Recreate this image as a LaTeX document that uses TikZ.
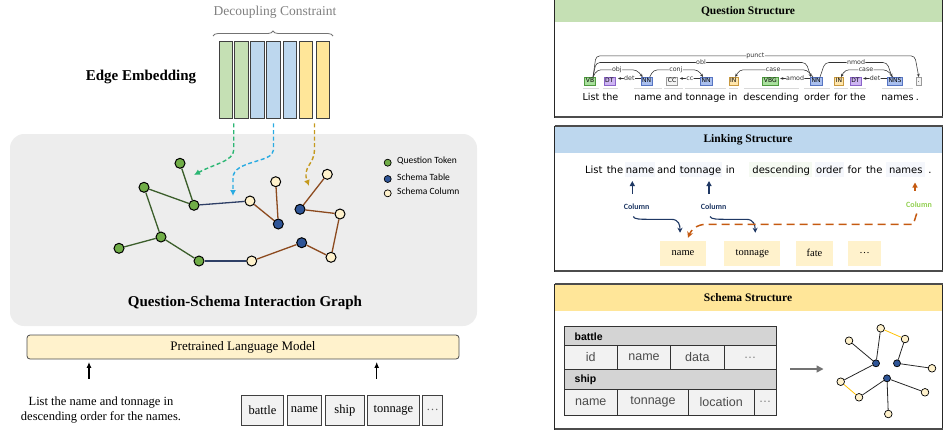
\documentclass[tikz,border=0pt]{standalone}
\usepackage{fontspec}
\setmainfont{Liberation Serif}
\newfontfamily\dejavu{DejaVu Sans}
\newfontfamily\carl{Carlito}
\newfontfamily\arialf{Liberation Sans}
\usetikzlibrary{arrows.meta,decorations.pathreplacing,calc}
\newcommand{\setfs}[1]{\fontsize{#1}{#1}\selectfont}
\definecolor{qgreen}{HTML}{70AD47}
\definecolor{ttblue}{HTML}{2F5597}
\definecolor{ccol}{HTML}{FFF2CC}
\definecolor{panelgray}{HTML}{EDEDED}
\definecolor{barG}{HTML}{C5E0B4}
\definecolor{barB}{HTML}{BDD7EE}
\definecolor{barY}{HTML}{FFE699}
\definecolor{egreen}{HTML}{3B5E2B}
\definecolor{eblue}{HTML}{2E3F66}
\definecolor{ebrown}{HTML}{8C4A1E}
\definecolor{dgreen}{HTML}{2BB673}
\definecolor{dcyan}{HTML}{29ABE2}
\definecolor{dgold}{HTML}{C59A1E}
\definecolor{linkblue}{HTML}{1F3864}
\definecolor{lorange}{HTML}{C55A11}
\definecolor{colgreen}{HTML}{92D050}
\definecolor{hdrgray}{HTML}{D4D4D4}
\definecolor{rowgray}{HTML}{F2F2F2}
\definecolor{yedge}{HTML}{FFC000}
\definecolor{hlb}{HTML}{F5F7FC}
\definecolor{hlg}{HTML}{F5FAF2}
\definecolor{tVBf}{HTML}{A8E09C}\definecolor{tVBd}{HTML}{4F9A3F}
\definecolor{tDTf}{HTML}{CDB4F2}\definecolor{tDTd}{HTML}{8A63C9}
\definecolor{tNNf}{HTML}{A9BFEE}\definecolor{tNNd}{HTML}{5674C2}
\definecolor{tINf}{HTML}{FFE6AC}\definecolor{tINd}{HTML}{C99A40}
\definecolor{tCCf}{HTML}{F4F4F4}\definecolor{tCCd}{HTML}{9A9A9A}
\begin{document}
\begin{tikzpicture}[x=1pt,y=-1pt,
  bar/.style={draw=black!75, line width=0.8pt, minimum width=13.6pt, minimum height=77pt, inner sep=0pt},
  gnode/.style={circle, draw=black, line width=1pt, minimum size=10pt, inner sep=0pt},
  gq/.style={gnode, fill=qgreen},
  gt/.style={gnode, fill=ttblue},
  gc/.style={gnode, fill=ccol},
  lnode/.style={circle, draw=black, line width=0.7pt, minimum size=7pt, inner sep=0pt},
  legtxt/.style={anchor=west, font=\carl\setfs{9.5}, inner sep=0pt},
  eg/.style={egreen, line width=1.3pt},
  eb/.style={eblue, line width=1.3pt},
  er/.style={ebrown, line width=1.3pt},
  dasharr/.style={line width=1.4pt, dash pattern=on 4pt off 2.6pt, -{Latex[length=6pt,width=6pt]}},
  uparr/.style={line width=1.4pt, -{Latex[length=6pt,width=5pt]}},
  sbox/.style={draw=black!75, line width=0.9pt, fill=rowgray, minimum height=30pt, inner sep=0pt, font=\setfs{12.5}},
  title/.style={font=\bfseries\setfs{11.5}},
  tag/.style={draw, line width=0.45pt, inner xsep=1.3pt, inner ysep=0pt, minimum height=7.6pt, text height=4.5pt, text depth=0.6pt, font=\dejavu\setfs{6}},
  word/.style={anchor=base, inner sep=0pt, font=\dejavu\setfs{9.6}},
  lword/.style={anchor=base, inner sep=0pt, font=\dejavu\setfs{10}},
  dep/.style={draw=black!80, line width=0.55pt, rounded corners=4pt},
  deplab/.style={fill=white, inner sep=0.4pt, font=\dejavu\setfs{6.3}, text=black!80},
  dtip/.style={-{Stealth[length=3.2pt,width=2.8pt]}},
  dtipl/.style={{Stealth[length=3.2pt,width=2.8pt]}-},
  lbox/.style={fill=ccol, minimum height=24.7pt, inner sep=0pt, font=\setfs{10.5}},
  collab/.style={font=\carl\bfseries\setfs{8}, inner sep=0pt},
  scol/.style={circle, draw=black, line width=0.7pt, fill=ccol, minimum size=7.6pt, inner sep=0pt},
  stab/.style={circle, draw=black, line width=0.7pt, fill=ttblue, minimum size=7pt, inner sep=0pt},
  sedge/.style={black!85, line width=0.8pt},
  yedg/.style={yedge, line width=0.8pt},
  tb/.style={draw=black!80, line width=0.9pt},
  celltxt/.style={font=\arialf\setfs{12.5}, text=black!70, inner sep=0pt},
  hdtxt/.style={font=\arialf\bfseries\setfs{10.5}, anchor=west, inner sep=0pt}
]
\useasboundingbox (0,0) rectangle (944,432);

% ---------------- left part ----------------
\node[text=black!50, font=\setfs{13.5}] (dc) at (275,12) {Decoupling Constraint};
\draw[black!55, line width=0.8pt, decorate, decoration={brace, amplitude=5pt}] (213,36) -- (333,36);

\foreach \x/\c [count=\i] in {226/barG,241.5/barG,257.5/barB,273.5/barB,290/barB,306/barY,323/barY}
  \node[bar, fill=\c] (b\i) at (\x,79.5) {};
\node[font=\bfseries\setfs{15}] (ee) at (141,77) {Edge Embedding};

\fill[panelgray, rounded corners=14pt] (10,134) rectangle (477,326);

% graph nodes
\node[gq] (G1) at (180,163.3) {};
\node[gq] (G2) at (144,187.3) {};
\node[gq] (G3) at (194,205.3) {};
\node[gq] (G4) at (161,237) {};
\node[gq] (G5) at (119,248.3) {};
\node[gq] (G6) at (199,261) {};
\node[gc] (C1) at (250,201) {};
\node[gc] (C2) at (275.7,181.7) {};
\node[gc] (C3) at (327.3,174.3) {};
\node[gc] (C4) at (340,214) {};
\node[gc] (C5) at (331,257.3) {};
\node[gc] (C6) at (251.7,261) {};
\node[gt] (T1) at (278.3,224) {};
\node[gt] (T2) at (300,209.3) {};
\node[gt] (T3) at (301.7,242.7) {};

\draw[eg] (G1) -- (G3);
\draw[eg] (G2) -- (G3);
\draw[eg] (G2) -- (G4);
\draw[eg] (G4) -- (G5);
\draw[eg] (G4) -- (G6);
\draw[eb] (G3) -- (C1);
\draw[eb] (G6) -- (C6);
\draw[er] (C1) -- (T1);
\draw[er] (C2) -- (T1);
\draw[er] (T2) -- (C3);
\draw[er] (T2) -- (C4);
\draw[er] (C4) -- (C5);
\draw[er] (C5) -- (T3);
\draw[er] (T3) -- (C6);

% dashed arrows
\coordinate (gs) at ($(b1.south east)!0.5!(b2.south west)+(0,5)$);
\coordinate (cs) at ($(b4.south)+(0,5)$);
\coordinate (ys) at ($(b6.south east)!0.5!(b7.south west)+(0,5)$);
\coordinate (ge) at (194,175);
\coordinate (ce) at (233,196);
\coordinate (ye) at (309,186);
\draw[dasharr, dgreen] (gs) -- (233.7,150) .. controls (233.7,161) and (214,164) .. (ge);
\draw[dasharr, dcyan] (cs) -- (273.5,150) .. controls (273.5,163) and (233,160) .. (233,178) -- (ce);
\draw[dasharr, dgold] (ys) -- (314.5,150) .. controls (314.5,164) and (302,167) .. (ye);

% legend
\node[lnode, fill=qgreen] (lq) at (387.7,162.7) {};
\node[lnode, fill=ttblue] (lt) at (387.7,179) {};
\node[lnode, fill=ccol] (lc) at (387.7,193.3) {};
\node[legtxt] (lqt) at (397,160.7) {Question Token};
\node[legtxt] (ltt) at (397,177.5) {Schema Table};
\node[legtxt] (lct) at (397,191.7) {Schema Column};

\node[font=\bfseries\setfs{15}] (qsg) at (245,303) {Question-Schema Interaction Graph};

% PLM
\node[draw=black!70, line width=0.8pt, fill=ccol, rounded corners=3pt, minimum width=432pt, minimum height=24pt, inner sep=0pt, font=\setfs{13}] (plm) at (243,347) {Pretrained Language Model};

\node[align=center, font=\fontsize{12.5}{14.7}\selectfont, inner sep=0pt] (q) at (101,410) {List the name and tonnage in\\descending order for the names.};

\node[sbox, minimum width=41.6pt] (s1) at (262.5,410) {battle};
\node[sbox, minimum width=34.4pt] (s2) at (304.5,410) {name};
\node[sbox, minimum width=38.3pt] (s3) at (344.9,410) {ship};
\node[sbox, minimum width=51.6pt] (s4) at (393.5,410) {tonnage};
\node[sbox, minimum width=20pt, text=black!60] (s5) at (432.7,410) {\dots};

\coordinate (qa) at (89,378.5);
\coordinate (sa) at (376.7,378.5);
\draw[uparr] (qa) -- ($(qa |- plm.south)+(0,2.5)$);
\draw[uparr] (sa) -- ($(sa |- plm.south)+(0,2.5)$);

% ---------------- right panels ----------------
% panel 1
\fill[barG] (554.5,-3) rectangle (942.5,22);
\draw[black!85, line width=0.8pt] (554.5,-3) rectangle (942.5,117);
\draw[black!70, line width=1.8pt] (554.5,117) -- (942.5,117);
\node[title] (t1) at (748,11) {Question Structure};

% panel 2
\fill[barB] (554.5,126) rectangle (942.5,152.5);
\draw[black!85, line width=0.8pt] (554.5,126) rectangle (942.5,271);
\draw[black!70, line width=1.8pt] (554.5,126) -- (942.5,126) (554.5,271) -- (942.5,271);
\node[title] (t2) at (748,140) {Linking Structure};

% panel 3
\fill[barY] (554.5,284) rectangle (942.5,310.7);
\draw[black!85, line width=0.8pt] (554.5,284) rectangle (942.5,429);
\draw[black!70, line width=1.8pt] (554.5,284) -- (942.5,284) (554.5,429) -- (942.5,429);
\node[title] (t3) at (748,297.5) {Schema Structure};

% ---- question structure: tags
\node[tag, fill=tVBf, draw=tVBd] (tVB) at (590,81) {VB};
\node[tag, fill=tDTf, draw=tDTd] (tDT1) at (609.3,81) {DT};
\node[tag, fill=tNNf, draw=tNNd] (tNN1) at (646.7,81) {NN};
\node[tag, fill=tCCf, draw=tCCd] (tCC) at (672,81) {CC};
\node[tag, fill=tNNf, draw=tNNd] (tNN2) at (706,81) {NN};
\node[tag, fill=tINf, draw=tINd] (tIN1) at (733.3,81) {IN};
\node[tag, fill=tVBf, draw=tVBd] (tVBG) at (770.3,81) {VBG};
\node[tag, fill=tNNf, draw=tNNd] (tNN3) at (816,81) {NN};
\node[tag, fill=tINf, draw=tINd] (tIN2) at (839,81) {IN};
\node[tag, fill=tDTf, draw=tDTd] (tDT2) at (855.5,81) {DT};
\node[tag, fill=tNNf, draw=tNNd] (tNNS) at (895,81) {NNS};
\node[tag, fill=tCCf, draw=tCCd] (tDot) at (918.8,81) {.};

% words
\foreach \x/\w [count=\i] in {591/List,610.5/the,648/name,673.5/and,705.5/tonnage,733/in,771/descending,817/order,840.7/for,858/the,897.5/names,917.3/.}
  \node[word] (w\i) at (\x,100) {\w};
\foreach \a/\b in {583/599,603/618,634/662,664/683,685/726,729/738,744/799,804/830,834/848,850/866,882/913}
  \draw[black!15, line width=0.6pt] (\a,88) -- (\b,88);

% arcs
\draw[dep, dtip] ([xshift=3pt]tVB.north) -- ++(3,-21.2) -- node[deplab]{punct} ($(tDot.north)+(-4,-21.2)$) -- (tDot.north);
\draw[dep, dtip] ([xshift=3pt]tVB.north) -- ++(3,-14.5) -- node[deplab]{obl} ($(tNN3.north)+(-10,-14.5)$) -- ([xshift=-5pt]tNN3.north);
\draw[dep, dtip] ([xshift=3pt]tVB.north) -- ++(4,-7.2) -- node[deplab]{obj} ($(tNN1.north)+(-10,-7.2)$) -- ([xshift=-4pt]tNN1.north);
\draw[dep, dtip] ([yshift=-1.5pt]tNN1.north west) -- node[deplab]{det} ([xshift=3pt,yshift=-1.5pt]tDT1.north east);
\draw[dep, dtip] ([xshift=3pt]tNN1.north) -- ++(4,-7.2) -- node[deplab]{conj} ($(tNN2.north)+(-8,-7.2)$) -- ([xshift=-3pt]tNN2.north);
\draw[dep, dtip] ([yshift=-1.5pt]tNN2.north west) -- node[deplab]{cc} ([xshift=2pt,yshift=-1.5pt]tCC.north east);
\draw[dep, dtipl] ([xshift=2pt]tIN1.north) -- ++(4,-7.2) -- node[deplab]{case} ($(tNN3.north)+(-9,-7.2)$) -- ([xshift=-3pt]tNN3.north);
\draw[dep, dtip] ([yshift=-1.5pt]tNN3.north west) -- node[deplab]{amod} ([xshift=2pt,yshift=-1.5pt]tVBG.north east);
\draw[dep, dtip] ([xshift=4pt]tNN3.north) -- ++(5,-14.5) -- node[deplab]{nmod} ($(tNNS.north)+(-8,-14.5)$) -- ([xshift=-3pt]tNNS.north);
\draw[dep, dtipl] ([xshift=2pt]tIN2.north) -- ++(4,-7.2) -- node[deplab]{case} ($(tNNS.north)+(-8,-7.2)$) -- ([xshift=-2pt]tNNS.north);
\draw[dep, dtip] ([yshift=-1.5pt]tNNS.north west) -- node[deplab]{det} ([xshift=2pt,yshift=-1.5pt]tDT2.north east);

% ---- linking structure
\foreach \a/\b/\c in {625/655/hlb,679/722/hlb,749/812/hlg,815/844/hlb,886/925/hlb}
  \fill[\c] (\a,162) rectangle (\b,177);
\foreach \x/\w [count=\i] in {593.8/List,615/the,640/name,666.5/and,700.5/tonnage,730.5/in,781.2/descending,829.5/order,854.5/for,874.2/the,905.8/names,930/.}
  \node[lword] (v\i) at (\x,173.5) {\w};
\coordinate (la1) at (632.3,194);
\coordinate (la2) at (709,194);
\coordinate (la3) at (915,190.5);
\draw[linkblue, line width=1.3pt, -{Triangle[length=5pt,width=5pt]}] (la1) -- ++(0,-13);
\draw[linkblue, line width=1.3pt, -{Triangle[length=5pt,width=5pt]}] (la2) -- ++(0,-13);
\draw[lorange, line width=1.3pt, -{Triangle[length=5pt,width=5pt]}] (la3) -- ++(0,-8);
\node[collab, text=linkblue] (cl1) at (636.7,206.7) {Column};
\node[collab, text=linkblue] (cl2) at (713.7,206.7) {Column};
\node[collab, text=colgreen] (cl3) at (919,204.3) {Column};

\node[lbox, minimum width=46pt] (bn) at (683,253.3) {name};
\node[lbox, minimum width=56pt] (bt) at (752.3,253.3) {tonnage};
\node[lbox, minimum width=37.6pt] (bf) at (814.5,253.3) {fate};
\node[lbox, minimum width=32.4pt] (bd) at (864.5,253.3) {\dots};

\draw[linkblue, line width=1.1pt, -{Stealth[length=5pt,width=5pt]}] (633.3,216.5) .. controls (634,219.3) and (640,219.3) .. (650,219.3) -- (671,219.3) .. controls (679,219.3) and (680,225) .. ($(bn.north)+(-3,-8)$);
\draw[linkblue, line width=1.1pt, -{Stealth[length=5pt,width=5pt]}] (710,216.5) .. controls (711,219.3) and (717,219.3) .. (727,219.3) -- (746,219.3) .. controls (754,219.3) and (755,225) .. ($(bt.north)+(3,-8)$);
\draw[lorange, line width=1.5pt, dash pattern=on 8pt off 5pt, -{Stealth[length=6pt,width=6pt]}] (916.7,213.5) -- (913.3,224.3) -- (706,224.3) .. controls (697,224.3) and (691,230) .. ($(bn.north)+(5,-3)$);

% ---- schema structure
\fill[hdrgray] (564,326) rectangle (776.3,345.7);
\fill[rowgray] (564,345.7) rectangle (776.3,369.3);
\fill[hdrgray] (564,369.3) rectangle (776.3,389);
\fill[rowgray] (564,389) rectangle (776.3,415);
\draw[tb] (564,326) rectangle (776.3,415);
\draw[tb] (564,345.7) -- (776.3,345.7) (564,369.3) -- (776.3,369.3) (564,389) -- (776.3,389);
\draw[tb] (617.3,345.7) -- (617.3,369.3) (670.7,345.7) -- (670.7,369.3) (724,345.7) -- (724,369.3);
\draw[tb] (617.7,389) -- (617.7,415) (688.3,389) -- (688.3,415) (754,389) -- (754,415);
\node[hdtxt] (hb) at (574.5,336.5) {battle};
\node[hdtxt] (hs) at (574.5,379.5) {ship};
\node[celltxt] (c11) at (590.7,357.5) {id};
\node[celltxt] (c12) at (644,357.5) {name};
\node[celltxt] (c13) at (697.3,357.5) {data};
\node[celltxt, text=black!50] (c14) at (750,357.5) {\dots};
\node[celltxt] (c21) at (590.8,402) {name};
\node[celltxt] (c22) at (653,402) {tonnage};
\node[celltxt] (c23) at (721.2,402) {location};
\node[celltxt, text=black!50] (c24) at (765.2,402) {\dots};

\coordinate (ga1) at (790,369);
\coordinate (ga2) at (823.5,369);
\draw[black!55, line width=1.5pt, -{Triangle[length=7pt,width=7pt]}] (ga1) -- (ga2);

\node[stab] (sA) at (876,363.3) {};
\node[stab] (sB) at (897,363.3) {};
\node[stab] (sC) at (887,378.3) {};
\node[scol] (k1) at (849,340.7) {};
\node[scol] (k2) at (880.7,328.3) {};
\node[scol] (k3) at (905,339) {};
\node[scol] (k4) at (932,368.3) {};
\node[scol] (k5) at (840.7,381.7) {};
\node[scol] (k6) at (859,397.3) {};
\node[scol] (k7) at (925,392.3) {};
\node[scol] (k8) at (888.3,414) {};
\draw[sedge] (sA) -- (k1) (sA) -- (k2) (sA) -- (k5) (sB) -- (k3) (sB) -- (k4) (sC) -- (k6) (sC) -- (k7) (sC) -- (k8);
\draw[yedg] (k2) -- (k3) (k5) -- (k6);
\end{tikzpicture}
\end{document}
